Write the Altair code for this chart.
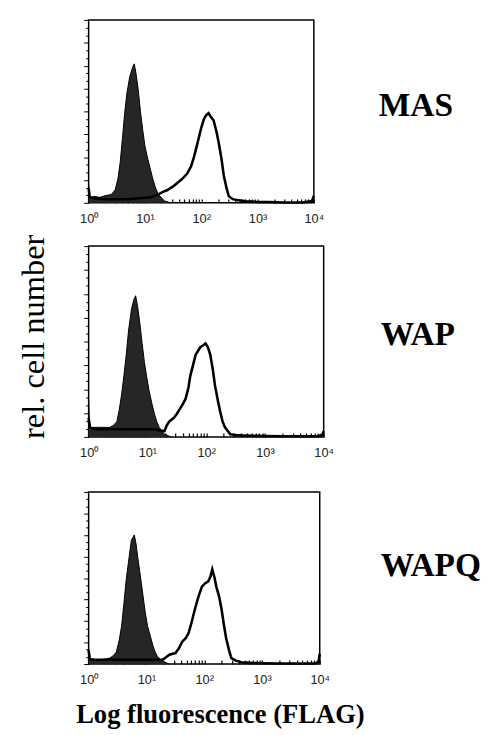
import altair as alt
import numpy as np
import pandas as pd

# ---- data (log10 decades of fluorescence, relative cell number as fraction of panel height) ----
names = ["MAS", "WAP", "WAPQ"]

mas_fill_dec = [0, 0.01, 0.03, 0.1, 0.2, 0.3, 0.4, 0.47, 0.52, 0.56, 0.6, 0.64, 0.68, 0.73, 0.78, 0.81,
                0.84, 0.88, 0.92, 0.96, 1.0, 1.05, 1.1, 1.14, 1.18, 1.23, 1.3, 1.35, 1.45]
mas_fill_val = [0.10, 0.05, 0.03, 0.035, 0.03, 0.04, 0.045, 0.07, 0.13, 0.22, 0.35, 0.49, 0.6, 0.69, 0.74, 0.76,
                0.71, 0.62, 0.5, 0.40, 0.31, 0.24, 0.18, 0.13, 0.09, 0.05, 0.025, 0.01, 0.0]
mas_line_dec = [0, 0.02, 0.1, 0.3, 0.5, 0.7, 0.9, 1.1, 1.23, 1.32, 1.4, 1.5, 1.58, 1.66, 1.75, 1.82, 1.87,
                1.92, 1.96, 2.0, 2.05, 2.09, 2.13, 2.17, 2.22, 2.27, 2.31, 2.36, 2.4, 2.45, 2.49, 2.56,
                2.63, 2.8, 3.0, 3.2, 3.5, 3.8, 3.97, 4.0]
mas_line_val = [0.08, 0.03, 0.025, 0.02, 0.02, 0.02, 0.025, 0.03, 0.045, 0.06, 0.07, 0.09, 0.11, 0.13, 0.16,
                0.2, 0.25, 0.31, 0.36, 0.41, 0.46, 0.48, 0.49, 0.47, 0.45, 0.39, 0.33, 0.24, 0.15, 0.08,
                0.036, 0.02, 0.015, 0.008, 0.005, 0.004, 0.002, 0.002, 0.01, 0.04]

wap_fill_dec = [0, 0.01, 0.03, 0.1, 0.2, 0.3, 0.36, 0.42, 0.48, 0.52, 0.56, 0.6, 0.64, 0.68, 0.73, 0.77,
                0.80, 0.83, 0.87, 0.91, 0.95, 0.99, 1.03, 1.08, 1.12, 1.16, 1.2, 1.29, 1.4]
wap_fill_val = [0.19, 0.1, 0.05, 0.05, 0.05, 0.05, 0.05, 0.06, 0.08, 0.14, 0.22, 0.32, 0.43, 0.56, 0.67,
                0.72, 0.74, 0.69, 0.60, 0.49, 0.39, 0.31, 0.24, 0.17, 0.12, 0.08, 0.05, 0.014, 0.0]
wap_line_dec = [0, 0.02, 0.1, 0.4, 0.8, 1.1, 1.2, 1.29, 1.33, 1.37, 1.41, 1.45, 1.5, 1.54, 1.6, 1.65, 1.7,
                1.73, 1.78, 1.82, 1.86, 1.9, 1.95, 1.99, 2.03, 2.07, 2.11, 2.15, 2.2, 2.24, 2.28, 2.32,
                2.41, 2.5, 2.6, 2.8, 3.0, 3.3, 3.6, 3.9, 3.98, 4.0]
wap_line_val = [0.1, 0.05, 0.04, 0.04, 0.04, 0.04, 0.035, 0.03, 0.06, 0.08, 0.09, 0.10, 0.12, 0.14, 0.17,
                0.20, 0.26, 0.32, 0.38, 0.43, 0.45, 0.47, 0.48, 0.49, 0.47, 0.43, 0.36, 0.27, 0.19, 0.13,
                0.08, 0.05, 0.014, 0.01, 0.008, 0.006, 0.005, 0.003, 0.003, 0.003, 0.01, 0.03]

wapq_fill_dec = [0, 0.01, 0.03, 0.1, 0.2, 0.3, 0.37, 0.43, 0.48, 0.53, 0.57, 0.61, 0.65, 0.7, 0.74, 0.79,
                 0.82, 0.85, 0.9, 0.94, 0.98, 1.02, 1.07, 1.11, 1.15, 1.19, 1.28, 1.4]
wapq_fill_val = [0.09, 0.04, 0.025, 0.025, 0.025, 0.03, 0.035, 0.05, 0.07, 0.14, 0.22, 0.35, 0.49, 0.62,
                 0.72, 0.75, 0.70, 0.62, 0.50, 0.40, 0.30, 0.22, 0.16, 0.11, 0.07, 0.044, 0.015, 0.0]
wapq_line_dec = [0, 0.02, 0.1, 0.4, 0.8, 1.1, 1.2, 1.28, 1.34, 1.39, 1.45, 1.5, 1.56, 1.62, 1.68, 1.73,
                 1.78, 1.84, 1.9, 1.96, 2.02, 2.07, 2.11, 2.14, 2.18, 2.21, 2.26, 2.3, 2.34, 2.38, 2.43,
                 2.47, 2.55, 2.64, 2.8, 3.0, 3.3, 3.6, 3.9, 3.98, 4.0]
wapq_line_val = [0.08, 0.03, 0.025, 0.025, 0.025, 0.025, 0.025, 0.025, 0.04, 0.053, 0.06, 0.063, 0.09,
                 0.13, 0.15, 0.18, 0.24, 0.32, 0.39, 0.45, 0.47, 0.48, 0.51, 0.55, 0.50, 0.45, 0.39, 0.32,
                 0.23, 0.15, 0.08, 0.034, 0.02, 0.011, 0.007, 0.005, 0.003, 0.003, 0.003, 0.01, 0.06]

major_decades = [0, 1, 2, 3, 4]
tick_labels = ["10⁰", "10¹", "10²", "10³", "10⁴"]
minor_multipliers = [2, 3, 4, 5, 6, 7, 8, 9]

# tick values for the log axis, in decades
x_tick_values = sorted(major_decades + [float(d + np.log10(m)) for d in major_decades[:-1] for m in minor_multipliers])
y_tick_values = [k / 24 for k in range(25)]

label_expr = " : ".join(
    [f"datum.value == {d} ? '{t}'" for d, t in zip(major_decades, tick_labels)]) + " : ''"

SERIF = "Liberation Serif"
SANS = "Liberation Sans"


def panel(name, fd, fv, ld, lv, w, h, xext, yext, lab_dx, lab_y, xtitle=None):
    fill_df = pd.DataFrame({"d": fd, "v": fv})
    line_df = pd.DataFrame({"d": ld, "v": lv})
    xaxis_kw = dict(
        values=x_tick_values, tickCount=200, labelExpr=label_expr, domain=False, grid=False,
        tickSize=4, tickColor="black", tickWidth=1.2, offset=-4, labelPadding=10,
        labelFont=SANS, labelFontSize=13, labelColor="#222", labelAngle=0,
        labelFlush=False, labelOverlap=False,
        minExtent=xext, maxExtent=xext,
    )
    if xtitle:
        xaxis_kw.update(title=xtitle, titleFont=SERIF, titleFontSize=27, titleFontWeight="bold",
                        titleColor="black", titlePadding=12, titleX=w / 2 + 16, titleAlign="center")
    else:
        xaxis_kw.update(title=None)
    xaxis = alt.Axis(**xaxis_kw)
    yaxis = alt.Axis(
        values=y_tick_values, tickCount=200, labels=False, domain=False, grid=False,
        tickSize={"condition": {"test": "abs(datum.value * 8 - round(datum.value * 8)) < 0.001", "value": 5},
                  "value": 3},
        tickColor="black", tickWidth=1, title=None,
        minExtent=yext, maxExtent=yext,
    )
    xs = alt.Scale(domain=[0, 4], nice=False, zero=False)
    ys = alt.Scale(domain=[0, 1], nice=False)
    area = alt.Chart(fill_df).mark_area(
        color="#262626", opacity=1, line={"color": "black", "strokeWidth": 1}, interpolate="linear"
    ).encode(
        x=alt.X("d:Q", scale=xs, axis=xaxis),
        y=alt.Y("v:Q", scale=ys, axis=yaxis),
    )
    line = alt.Chart(line_df).mark_line(color="black", strokeWidth=2.6, interpolate="linear").encode(
        x=alt.X("d:Q", scale=xs),
        y=alt.Y("v:Q", scale=ys),
    )
    text = alt.Chart(pd.DataFrame({"name": [name]})).mark_text(
        font=SERIF, fontSize=34, fontWeight="bold", align="left", baseline="middle", color="black"
    ).encode(
        text="name:N", x=alt.value(w + lab_dx), y=alt.value(lab_y)
    )
    return alt.layer(area, line, text).properties(width=w, height=h)


p1 = panel(names[0], mas_fill_dec, mas_fill_val, mas_line_dec, mas_line_val, 229, 186, 26, 12, 66, 88)
p2 = panel(names[1], wap_fill_dec, wap_fill_val, wap_line_dec, wap_line_val, 239, 194, 39, 10, 58, 91)
p3 = panel(names[2], wapq_fill_dec, wapq_fill_val, wapq_line_dec, wapq_line_val, 235, 175, 30, 14, 62, 75,
           xtitle="Log fluorescence (FLAG)")

chart = alt.vconcat(p1, p2, p3, spacing=18).properties(
    title=alt.TitleParams(
        "rel. cell number", orient="left", anchor="middle", font=SERIF, fontSize=33,
        fontWeight="normal", color="black", offset=24, dx=37,
    ),
    padding={"left": 10, "top": 4, "right": 0, "bottom": 0},
).configure_view(stroke="black", strokeWidth=1.5)

chart.save("out.html", embed_options={"renderer": "svg", "actions": False})
